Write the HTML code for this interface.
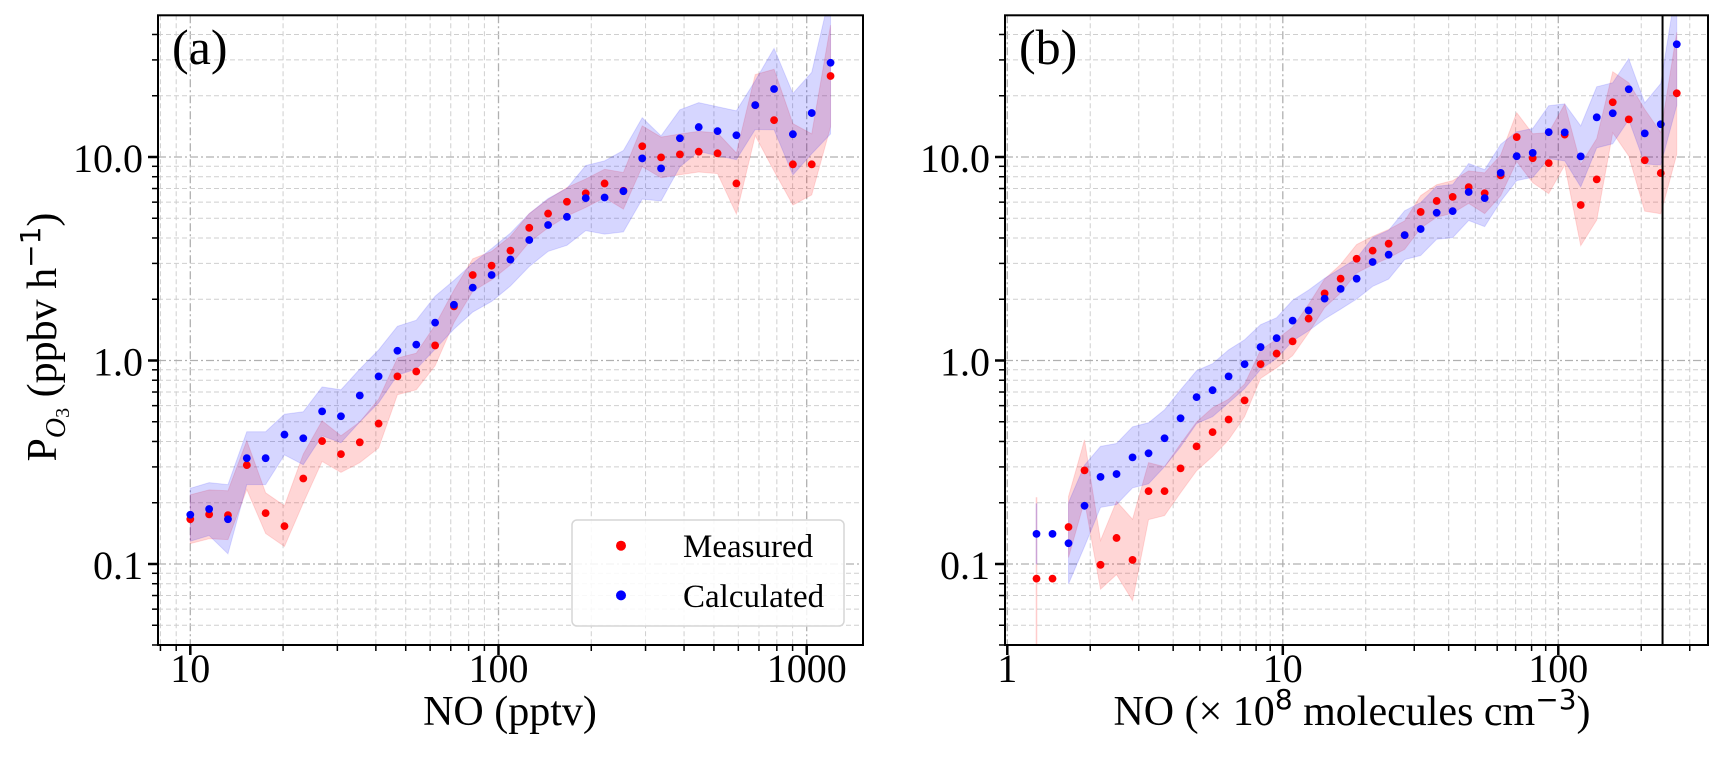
<!DOCTYPE html>
<html><head><meta charset="utf-8">
<style>
html,body{margin:0;padding:0;background:#fff;}
svg text{font-family:"Liberation Serif","DejaVu Serif",serif;fill:#000;}
</style></head>
<body>
<svg id="fig" width="1725" height="767" viewBox="0 0 1725 767" xmlns="http://www.w3.org/2000/svg">
<defs>
<clipPath id="clipA"><rect x="158" y="15.3" width="705" height="629.7"/></clipPath>
<clipPath id="clipB"><rect x="1005" y="15.3" width="703" height="629.7"/></clipPath>
</defs>
</svg>
<script>
// ---------- Panel (a) data: NO (pptv) log-spaced bins ----------
const aLogX0 = 1.0;
const aLogStep = 0.0611;
const aMeasured = [-0.78,-0.756,-0.76,-0.514,-0.75,-0.814,-0.58,-0.396,-0.46,-0.402,-0.31,-0.078,-0.054,0.074,0.266,0.42,0.466,0.54,0.652,0.722,0.78,0.822,0.870,0.834,1.053,0.998,1.013,1.026,1.018,0.870,1.255,1.181,0.964,0.964,1.398];
const aCalculated = [-0.758,-0.73,-0.78,-0.48,-0.48,-0.364,-0.382,-0.25,-0.274,-0.172,-0.078,0.048,0.078,0.186,0.274,0.358,0.42,0.496,0.592,0.666,0.706,0.798,0.801,0.832,0.993,0.944,1.092,1.147,1.127,1.107,1.255,1.334,1.112,1.216,1.463];
const aMeasuredErr = [0.12,0.12,0.12,0.12,0.1,0.1,0.12,0.1,0.09,0.1,0.12,0.09,0.09,0.1,0.08,0.08,0.07,0.07,0.07,0.07,0.07,0.07,0.07,0.09,0.1,0.1,0.1,0.1,0.1,0.15,0.15,0.25,0.2,0.15,0.25];
const aCalculatedErr = [0.13,0.13,0.17,0.13,0.13,0.1,0.13,0.12,0.13,0.13,0.13,0.12,0.12,0.13,0.12,0.12,0.13,0.13,0.13,0.13,0.14,0.16,0.18,0.2,0.2,0.16,0.14,0.12,0.12,0.12,0.12,0.2,0.2,0.2,0.35];
const aTickLabels = ["10","100","1000"];
// ---------- Panel (b) data: NO (x10^8 molecules cm-3) ----------
const bLogX0 = 0.106;
const bLogStep = 0.0581;
const bMeasured = [-1.072,-1.072,-0.818,-0.54,-1.004,-0.872,-0.98,-0.642,-0.642,-0.53,-0.422,-0.352,-0.29,-0.196,-0.018,0.034,0.094,0.206,0.33,0.402,0.5,0.54,0.574,0.616,0.73,0.784,0.804,0.852,0.822,0.91,1.098,0.994,0.97,1.11,0.764,0.89,1.269,1.185,0.984,0.921,1.313];
const bCalculated = [-0.852,-0.852,-0.898,-0.714,-0.572,-0.558,-0.476,-0.456,-0.382,-0.284,-0.18,-0.146,-0.078,-0.018,0.066,0.11,0.196,0.246,0.304,0.352,0.402,0.484,0.52,0.616,0.646,0.726,0.734,0.828,0.798,0.922,1.004,1.02,1.122,1.121,1.003,1.195,1.215,1.333,1.116,1.161,1.554];
const bMeasuredErr = [0.4,0,0.15,0.15,0.12,0.18,0.2,0.14,0.12,0.12,0.12,0.12,0.1,0.08,0.07,0.07,0.07,0.07,0.07,0.07,0.07,0.07,0.07,0.07,0.08,0.08,0.08,0.08,0.1,0.1,0.12,0.12,0.15,0.15,0.2,0.2,0.15,0.18,0.25,0.2,0.3];
const bCalculatedErr = [0.15,0,0.2,0.2,0.15,0.15,0.15,0.15,0.14,0.14,0.13,0.13,0.13,0.12,0.11,0.1,0.1,0.1,0.1,0.1,0.1,0.12,0.12,0.12,0.13,0.13,0.13,0.14,0.14,0.14,0.12,0.12,0.13,0.14,0.15,0.15,0.15,0.15,0.15,0.2,0.3];
const bTickLabels = ["1","10","100"];
const yTickLabels = ["0.1","1.0","10.0"];
const bMarkerLine = 239;

const NS = "http://www.w3.org/2000/svg";
const svg = document.getElementById('fig');
function el(tag, attrs, parent){
  const e = document.createElementNS(NS, tag);
  for (const k in attrs) e.setAttribute(k, attrs[k]);
  (parent||svg).appendChild(e);
  return e;
}
const Y_TOP = 15.3, Y_BOT = 645;
function yPx(lv){ return 564 - (lv + 1) * 203.5; }

function panel(opt){
  const g = el('g', {});
  
  
  const xPx = lv => opt.xRef + (lv - opt.xRefLog) * opt.dec;
  const L = opt.left, R = opt.right;
  const xlo = (L - opt.xRef)/opt.dec + opt.xRefLog, xhi = (R - opt.xRef)/opt.dec + opt.xRefLog;
  const ylo = -1 - (Y_BOT-564)/203.5, yhi = -1 + (564-Y_TOP)/203.5;
  const grid = el('g', {}, g);
  
  
  const ticks = el('g', {}, g);
  
  
  for (let d = Math.floor(xlo); d <= Math.ceil(xhi); d++){
    for (let m = 1; m <= 9; m++){
      const lv = d + Math.log10(m);
      if (lv < xlo - 1e-6 || lv > xhi + 1e-6) continue;
      const x = xPx(lv);
      if (m === 1){
        el('line', {x1:x, x2:x, y1:Y_TOP, y2:Y_BOT, stroke:'#b0b0b0', 'stroke-width':1.3, 'stroke-dasharray':'8,3,2,3'}, grid);
        el('line', {x1:x, x2:x, y1:Y_BOT, y2:Y_BOT+10, stroke:'#000', 'stroke-width':2.5}, ticks);
      } else {
        el('line', {x1:x, x2:x, y1:Y_TOP, y2:Y_BOT, stroke:'#cfcfcf', 'stroke-width':1, 'stroke-dasharray':'5,3'}, grid);
        el('line', {x1:x, x2:x, y1:Y_BOT, y2:Y_BOT+6, stroke:'#000', 'stroke-width':1.5}, ticks);
      }
    }
  }
  for (let d = -2; d <= 1; d++){
    for (let m = 1; m <= 9; m++){
      const lv = d + Math.log10(m);
      if (lv < ylo || lv > yhi) continue;
      const y = yPx(lv);
      if (m === 1){
        el('line', {x1:L, x2:R, y1:y, y2:y, stroke:'#b0b0b0', 'stroke-width':1.3, 'stroke-dasharray':'8,3,2,3'}, grid);
        el('line', {x1:L-10, x2:L, y1:y, y2:y, stroke:'#000', 'stroke-width':2.5}, ticks);
      } else {
        el('line', {x1:L, x2:R, y1:y, y2:y, stroke:'#cfcfcf', 'stroke-width':1, 'stroke-dasharray':'5,3'}, grid);
        el('line', {x1:L-6, x2:L, y1:y, y2:y, stroke:'#000', 'stroke-width':1.5}, ticks);
      }
    }
  }
  opt.xLabels.forEach((t, i) => {
    const tx = el('text', {x: xPx(opt.xLabelLog0 + i), y: 682, 'font-size': 40, 'text-anchor':'middle'}, g);
    tx.textContent = t;
    
    
  });
  yTickLabels.forEach((t, i) => {
    const tx = el('text', {x: L-15, y: yPx(-1 + i) + 15, 'font-size': 40, 'text-anchor':'end'}, g);
    tx.textContent = t;
    
    
  });
  const data = el('g', {'clip-path':'url(#' + opt.clip + ')'}, g);
  
  
  const band = (vals, errs, color, name) => {
    let up = [], dn = [];
    for (let i = opt.bandStart; i < vals.length; i++){
      const x = xPx(opt.x0 + i*opt.step);
      up.push(x + ',' + yPx(vals[i] + errs[i]));
      dn.unshift(x + ',' + yPx(vals[i] - errs[i]));
    }
    const p = el('polygon', {points: up.concat(dn).join(' '), fill: color, 'fill-opacity':0.16, stroke: color, 'stroke-opacity':0.12, 'stroke-width':1}, data);
    
    
    if (opt.bandStart > 0){
      const x = xPx(opt.x0);
      const ln = el('line', {x1:x, x2:x, y1:yPx(vals[0]+errs[0]), y2:yPx(vals[0]-errs[0]), stroke: color, 'stroke-opacity':0.2, 'stroke-width':1.5}, data);
      
      
    }
  };
  band(opt.meas, opt.measErr, '#ff0000', 'measured-band');
  band(opt.calc, opt.calcErr, '#0000ff', 'calculated-band');
  const dots = (vals, color, name) => {
    vals.forEach((v, i) => {
      const c = el('circle', {cx: xPx(opt.x0 + i*opt.step), cy: yPx(v), r: 3.9, fill: color}, data);
      
      
    });
  };
  dots(opt.meas, '#ff0000', 'measured-point');
  dots(opt.calc, '#0000ff', 'calculated-point');
  if (opt.vline){
    const x = xPx(Math.log10(opt.vline));
    const v = el('line', {x1:x, x2:x, y1:Y_TOP, y2:Y_BOT, stroke:'#000', 'stroke-width':2}, g);
    
    
  }
  const frame = el('rect', {x:L, y:Y_TOP, width:R-L, height:Y_BOT-Y_TOP, fill:'none', stroke:'#000', 'stroke-width':2}, g);
  
  
  const lab = el('text', {x: L+14, y: 64, 'font-size': 50}, g);
  lab.textContent = opt.label;
  
  
}

panel({name:'panel-a', left:158, right:863, xRef:190.3, xRefLog:1, dec:308.2, clip:'clipA',
  x0:aLogX0, step:aLogStep, meas:aMeasured, calc:aCalculated, measErr:aMeasuredErr, calcErr:aCalculatedErr,
  xLabels:aTickLabels, xLabelLog0:1, bandStart:0, label:'(a)'});
panel({name:'panel-b', left:1005, right:1708, xRef:1007.3, xRefLog:0, dec:275.5, clip:'clipB',
  x0:bLogX0, step:bLogStep, meas:bMeasured, calc:bCalculated, measErr:bMeasuredErr, calcErr:bCalculatedErr,
  xLabels:bTickLabels, xLabelLog0:0, bandStart:2, label:'(b)', vline:bMarkerLine});
</script>
<svg width="1725" height="767" style="position:absolute;left:0;top:0;pointer-events:none" xmlns="http://www.w3.org/2000/svg">
  <g>
    <rect x="572" y="520" width="272" height="106" rx="5" fill="#fff" fill-opacity="0.85" stroke="#d6d6d6" stroke-width="1.5"/>
    <circle cx="621" cy="545.7" r="5" fill="#ff0000"/>
    <text x="683" y="557" font-size="33" style="font-family:'Liberation Serif',serif">Measured</text>
    <circle cx="621" cy="595.4" r="5" fill="#0000ff"/>
    <text x="683" y="607" font-size="33" style="font-family:'Liberation Serif',serif">Calculated</text>
  </g>
  <text x="510" y="725" font-size="42" text-anchor="middle" style="font-family:'Liberation Serif',serif">NO (pptv)</text>
  <text x="1352" y="725" font-size="42" text-anchor="middle" style="font-family:'Liberation Serif',serif">NO (× 10<tspan font-size="28" dy="-16" style="font-family:'DejaVu Sans',sans-serif">8</tspan><tspan dy="16"> molecules cm</tspan><tspan font-size="28" dy="-16" style="font-family:'DejaVu Sans',sans-serif">−3</tspan><tspan dy="16">)</tspan></text>
  <text transform="translate(56,337) rotate(-90)" font-size="42" text-anchor="middle" style="font-family:'Liberation Serif',serif">P<tspan font-size="28" dy="9" font-style="italic">O</tspan><tspan font-size="20" dy="4">3</tspan><tspan dy="-13"> (ppbv h</tspan><tspan font-size="28" dy="-16" style="font-family:'DejaVu Sans',sans-serif">−1</tspan><tspan dy="16">)</tspan></text>
</svg>
</body></html>
